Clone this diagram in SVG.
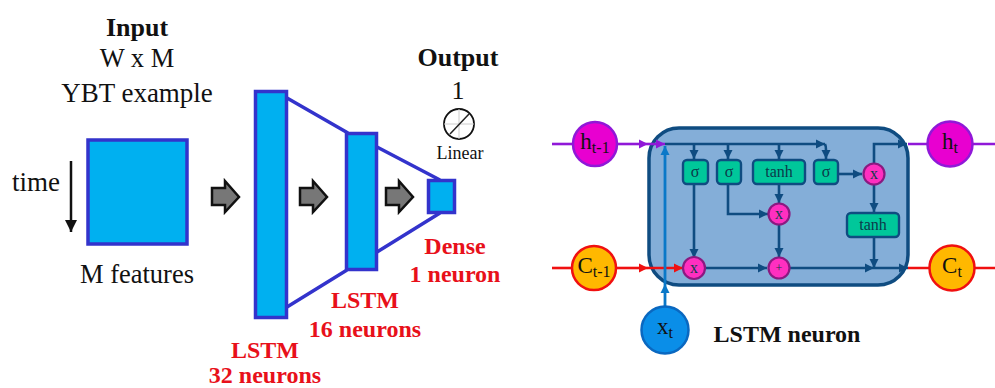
<svg xmlns="http://www.w3.org/2000/svg" width="995" height="388" viewBox="0 0 995 388">
<style>
.t{font-family:"Liberation Serif","Times New Roman",serif;fill:#111;text-anchor:middle}
.b{font-weight:bold}
.r{fill:#e8101a;font-weight:bold}
.layer{fill:#00b0f0;stroke:#3333cc;stroke-width:3.5}
.lnk{stroke:#3333cc;stroke-width:3.5;fill:none}
.ga{fill:#777;stroke:#111;stroke-width:2.5;stroke-linejoin:miter}
.c{fill:none;stroke:#0f4c81;stroke-width:2.6}
.pu{fill:none;stroke:#9018d8;stroke-width:2.6}
.re{fill:none;stroke:#f01010;stroke-width:2.6}
.bl{fill:none;stroke:#0a78c8;stroke-width:2.8}
.g{fill:#00c79a;stroke:#0f4c81;stroke-width:2.4}
.m{fill:#ff2fc0;stroke:#8a1a80;stroke-width:2.2}
.s{font-size:16px;fill:#0c3a4a}
</style>
<defs>
<marker id="ad" markerUnits="userSpaceOnUse" markerWidth="11" markerHeight="11" refX="9" refY="5.500" orient="auto"><path d="M0 1L9 5.500L0 10z" fill="#0f4c81"/></marker>
<marker id="ap" markerUnits="userSpaceOnUse" markerWidth="11" markerHeight="11" refX="9" refY="5.500" orient="auto"><path d="M0 1L9 5.500L0 10z" fill="#9018d8"/></marker>
<marker id="ar" markerUnits="userSpaceOnUse" markerWidth="11" markerHeight="11" refX="9" refY="5.500" orient="auto"><path d="M0 1L9 5.500L0 10z" fill="#f01010"/></marker>
<marker id="ab" markerUnits="userSpaceOnUse" markerWidth="11" markerHeight="11" refX="9" refY="5.500" orient="auto"><path d="M0 1L9 5.500L0 10z" fill="#0a78c8"/></marker>
<marker id="ak" markerUnits="userSpaceOnUse" markerWidth="14" markerHeight="14" refX="12" refY="7" orient="auto"><path d="M0 1L12 7L0 13z" fill="#111"/></marker>
</defs>

<g id="input-labels">
<text class="t b" x="137" y="36" font-size="26">Input</text>
<text class="t" x="137" y="67" font-size="26.500">W x M</text>
<text class="t" x="137" y="102" font-size="27">YBT example</text>
<text class="t" x="36" y="191" font-size="27">time</text>
<text class="t" x="137" y="283" font-size="26.500">M features</text>
</g>
<line id="time-arrow" x1="71" y1="161" x2="71" y2="232" stroke="#111" stroke-width="2.5" marker-end="url(#ak)"/>
<rect id="input-block" class="layer" x="88" y="140" width="99" height="104"/>

<g id="connectors-left">
<path class="lnk" d="M287 98L348 133M287 307L347 270M377 147L440 180M377 252L440 213"/>
</g>
<g id="lstm32"><rect class="layer" x="255.500" y="91.500" width="31" height="226"/></g>
<g id="lstm16"><rect class="layer" x="346.500" y="133.500" width="30" height="136"/></g>
<g id="dense"><rect class="layer" x="428.500" y="180.500" width="26" height="32"/></g>
<g id="flow-arrows">
<path id="fa1" class="ga" d="M212 188H225V181L239 197L225 212V205H212z"/>
<path id="fa2" class="ga" d="M300 188H313V181L327 197L313 212V205H300z"/>
<path id="fa3" class="ga" d="M386 188H399V181L413 197L399 212V205H386z"/>
</g>
<g id="output">
<text class="t b" x="458" y="66" font-size="26">Output</text>
<text class="t" x="458" y="99" font-size="26">1</text>
<circle cx="459" cy="124" r="15" fill="#fff" stroke="#111" stroke-width="1.8"/>
<path d="M444 124H474M459 109V139" stroke="#ccc" stroke-width="1" fill="none"/>
<line x1="450" y1="134" x2="469" y2="114" stroke="#222" stroke-width="1.5"/>
<text class="t" x="460" y="159" font-size="18">Linear</text>
</g>
<g id="red-labels">
<text class="t r" x="455" y="254" font-size="24">Dense</text>
<text class="t r" x="455" y="282" font-size="24">1 neuron</text>
<text class="t r" x="365" y="308" font-size="24">LSTM</text>
<text class="t r" x="365" y="337" font-size="24">16 neurons</text>
<text class="t r" x="265" y="358" font-size="24">LSTM</text>
<text class="t r" x="265" y="382.500" font-size="24">32 neurons</text>
</g>

<g id="lstm-cell"><rect x="649" y="128" width="259" height="157" rx="30" fill="#84aed8" stroke="#0f4c81" stroke-width="3.5"/></g>

<g id="connectors">
<path class="pu" d="M552 144H574"/>
<path class="pu" d="M617 144H648" marker-end="url(#ap)"/>
<path class="pu" d="M648 144H665" marker-end="url(#ap)"/>
<path class="re" d="M552 268H573"/>
<path class="re" d="M616 268H648" marker-end="url(#ar)"/>
<path class="re" d="M648 268H683" marker-end="url(#ar)"/>
<path class="bl" d="M665 306V284" marker-end="url(#ab)"/>
<path class="bl" d="M665 284V146" marker-end="url(#ab)"/>
<path class="c" d="M665 144H825" marker-end="url(#ad)"/>
<path class="c" d="M694 144V159" marker-end="url(#ad)"/>
<path class="c" d="M728 144V159" marker-end="url(#ad)"/>
<path class="c" d="M779 144V159" marker-end="url(#ad)"/>
<path class="c" d="M825 144Q826 146 826 150V159" marker-end="url(#ad)"/>
<path class="c" d="M694 184V258" marker-end="url(#ad)"/>
<path class="c" d="M728 184V214H768" marker-end="url(#ad)"/>
<path class="c" d="M779 184V203" marker-end="url(#ad)"/>
<path class="c" d="M779 225V257" marker-end="url(#ad)"/>
<path class="c" d="M705 268H767" marker-end="url(#ad)"/>
<path class="c" d="M790 268H874" marker-end="url(#ad)"/>
<path class="c" d="M874 268H908" marker-end="url(#ad)"/>
<path class="c" d="M838 174H862" marker-end="url(#ad)"/>
<path class="c" d="M874 184V212" marker-end="url(#ad)"/>
<path class="c" d="M874 237V268" marker-end="url(#ad)"/>
<path class="c" d="M874 163V144H907" marker-end="url(#ad)"/>
<path class="pu" d="M908 144H927M973 144H995"/>
<path class="re" d="M908 268H929M975 268H995"/>
</g>

<g id="sigma1"><rect class="g" x="683" y="160" width="25" height="24" rx="4"/><text class="t s" x="695" y="177">σ</text></g>
<g id="sigma2"><rect class="g" x="717" y="160" width="24" height="24" rx="4"/><text class="t s" x="729" y="177">σ</text></g>
<g id="tanh1"><rect class="g" x="753" y="160" width="52" height="24" rx="4"/><text class="t s" x="779" y="177">tanh</text></g>
<g id="sigma3"><rect class="g" x="814" y="160" width="24" height="24" rx="4"/><text class="t s" x="826" y="177">σ</text></g>
<g id="tanh2"><rect class="g" x="847" y="213" width="52" height="24" rx="4"/><text class="t s" x="873" y="230">tanh</text></g>

<g id="mul1"><circle class="m" cx="694" cy="268" r="11"/><text class="t s" x="694" y="273">x</text></g>
<g id="mul2"><circle class="m" cx="779" cy="214" r="10.500"/><text class="t s" x="779" y="219">x</text></g>
<g id="add"><circle class="m" cx="779" cy="268" r="10.500"/><text class="t s" x="779" y="272" style="font-size:12px">+</text></g>
<g id="mul3"><circle class="m" cx="874" cy="174" r="10.500"/><text class="t s" x="874" y="179">x</text></g>

<g id="h-prev"><circle cx="595" cy="144" r="22" fill="#e800d0" stroke="#9018d8" stroke-width="2.5"/><text class="t" x="595" y="149" font-size="23">h<tspan font-size="16" dy="4">t-1</tspan></text></g>
<g id="c-prev"><circle cx="594" cy="268" r="22" fill="#ffb800" stroke="#f01010" stroke-width="2.5"/><text class="t" x="594" y="273" font-size="23">C<tspan font-size="16" dy="4">t-1</tspan></text></g>
<g id="x-t"><circle cx="665" cy="330" r="23.500" fill="#0a8ee8" stroke="#0a68c0" stroke-width="2.500"/><text class="t" x="665" y="334" font-size="23">x<tspan font-size="16" dy="4">t</tspan></text></g>
<g id="h-t"><circle cx="950" cy="144" r="22.500" fill="#e800d0" stroke="#9018d8" stroke-width="2.5"/><text class="t" x="950" y="149" font-size="23">h<tspan font-size="16" dy="4">t</tspan></text></g>
<g id="c-t"><circle cx="952" cy="268" r="22.500" fill="#ffb800" stroke="#f01010" stroke-width="2.5"/><text class="t" x="952" y="273" font-size="23">C<tspan font-size="16" dy="4">t</tspan></text></g>

<text id="lstm-title" class="t b" x="787" y="342" font-size="24">LSTM neuron</text>
</svg>
